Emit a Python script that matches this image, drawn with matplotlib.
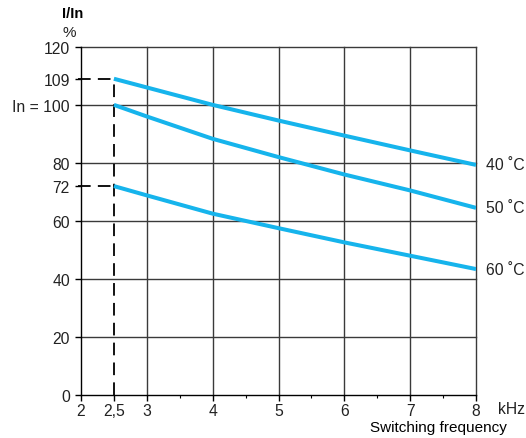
#!/usr/bin/env python3
# derating curves: I/In vs switching frequency
import matplotlib
matplotlib.use("Agg")
import matplotlib.pyplot as plt

plt.rcParams["font.family"] = ["Liberation Sans", "DejaVu Sans"]

# data
freq = [2.5, 3, 4, 5, 6, 7, 8]
curve_40 = [109, 106, 100, 94.6, 89.4, 84.3, 79.3]
curve_50 = [100, 96, 88.3, 82, 76, 70.5, 64.5]
curve_60 = [72, 68.8, 62.5, 57.5, 52.6, 48, 43.4]
curve_labels = ["40 ˚C", "50 ˚C", "60 ˚C"]

x_ticks = [2, 2.5, 3, 4, 5, 6, 7, 8]
x_ticklabels = ["2", "2,5", "3", "4", "5", "6", "7", "8"]
x_minor = [3.5, 4.5, 5.5, 6.5, 7.5]
y_ticks = [0, 20, 40, 60, 72, 80, 100, 109, 120]
y_ticklabels = ["0", "20", "40", "60", "72", "80", "In = 100", "109", "120"]
y_grid = [20, 40, 60, 80, 100, 120]
x_grid = [3, 4, 5, 6, 7, 8]
ref_freq = 2.5
ref_levels = [109, 72]

fig = plt.figure(figsize=(5.26, 4.39), dpi=100)
ax = fig.add_axes([0.154, 0.098, 0.751, 0.793])
ax.set_xlim(2, 8)
ax.set_ylim(0, 120)

grid_col = "#3a3a3a"
for y in y_grid:
    ax.axhline(y, color=grid_col, lw=1.0, zorder=1, clip_on=False)
for x in x_grid:
    ax.axvline(x, color=grid_col, lw=1.0, zorder=1, clip_on=False)

# dashed reference lines at 2,5 kHz
dash = dict(color="black", lw=1.3, dashes=(7, 4), zorder=2, clip_on=False)
ax.plot([ref_freq, ref_freq], [0, max(ref_levels)], **dash)
for lvl in ref_levels:
    ax.plot([1.95, ref_freq], [lvl, lvl], **dash)

blue = "#16b4ec"
for ys, lab in zip([curve_40, curve_50, curve_60], curve_labels):
    ax.plot(freq, ys, color=blue, lw=2.9, solid_capstyle="butt", zorder=3)
    ax.text(8.15, ys[-1], lab, fontsize=11.3, va="center", ha="left", color="#222222")

for s in ["top", "right"]:
    ax.spines[s].set_visible(False)
for s in ["left", "bottom"]:
    ax.spines[s].set_color("black")
    ax.spines[s].set_linewidth(1.0)

ax.set_xticks(x_ticks)
ax.set_xticklabels(x_ticklabels, fontsize=11.3, color="#222222")
ax.set_xticks(x_minor, minor=True)
ax.set_yticks(y_ticks)
ax.set_yticklabels(y_ticklabels, fontsize=11.3, color="#222222")
ax.tick_params(axis="both", which="major", length=4, width=1.0, direction="out")
ax.tick_params(axis="y", which="major", pad=4)
ax.tick_params(axis="x", which="major", pad=2)
ax.tick_params(axis="x", which="minor", length=2.5, width=0.8, direction="out")

fig.text(0.972, 0.068, "kHz", fontsize=11.3, ha="center", va="center", color="#222222")
fig.text(0.964, 0.025, "Switching frequency", fontsize=11, ha="right", va="center", color="black")
fig.text(0.138, 0.968, "I/In", fontsize=10.5, ha="center", va="center", fontweight="bold", color="black")
fig.text(0.131, 0.925, "%", fontsize=11, ha="center", va="center", color="#222222")

fig.savefig("out.png", dpi=100)
